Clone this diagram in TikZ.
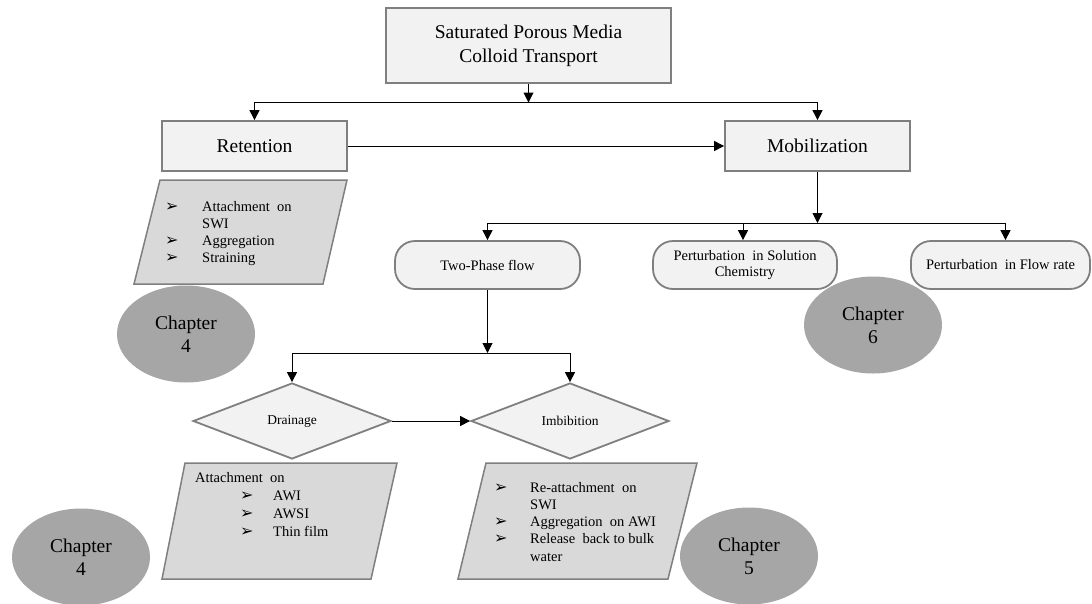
\documentclass[tikz,border=0pt]{standalone}
\usepackage{fontspec}
\setmainfont{Liberation Serif}
\newfontfamily\dejavu{DejaVu Sans}
\usetikzlibrary{shapes.geometric,arrows.meta}
\definecolor{boxfill}{HTML}{F2F2F2}
\definecolor{parafill}{HTML}{D9D9D9}
\definecolor{chapfill}{HTML}{A6A6A6}
\definecolor{bordergray}{HTML}{7F7F7F}
\newcommand{\bul}{{\dejavu\fontsize{16}{16}\selectfont ➢}}
\begin{document}
\begin{tikzpicture}[x=1pt,y=-1pt,
  box/.style={draw=bordergray, line width=1.8pt, fill=boxfill, inner sep=0pt, align=center},
  rbox/.style={box, rounded corners=20pt},
  dia/.style={diamond, draw=bordergray, line width=1.8pt, fill=boxfill, minimum width=198pt, minimum height=76pt, inner sep=0pt, font=\fontsize{13.5}{15}\selectfont},
  para/.style={draw=bordergray, line width=1.5pt, fill=parafill},
  chap/.style={ellipse, fill=chapfill, minimum width=138pt, minimum height=97pt, inner sep=0pt, align=center, font=\fontsize{19.5}{23}\selectfont},
  big/.style={font=\fontsize{19.5}{24}\selectfont},
  small/.style={font=\fontsize{14.5}{16}\selectfont},
  listtxt/.style={anchor=base west, inner sep=0pt},
  arr/.style={-{Triangle[length=10pt,width=10pt]}, line width=1pt, black},
  ln/.style={line width=1pt, black}
]
\useasboundingbox (0,0) rectangle (1092,603);

% main nodes
\node[box, big, minimum width=285pt, minimum height=75pt] (top) at (528.5,45.5) {Saturated Porous Media\\Colloid Transport};
\node[box, big, minimum width=185pt, minimum height=50pt] (ret) at (254.5,146) {Retention};
\node[box, big, minimum width=185pt, minimum height=50pt] (mob) at (817.5,146) {Mobilization};
\node[rbox, small, minimum width=185pt, minimum height=48pt] (tp) at (487.5,265) {Two-Phase flow};
\node[rbox, small, minimum width=184pt, minimum height=48pt] (sol) at (745,265) {Perturbation\ \ in Solution\\Chemistry};
\node[rbox, small, minimum width=179pt, minimum height=48pt] (flow) at (1000.5,265) {Perturbation\ \ in Flow rate};
\node[dia] (dr) at (292,421) {Drainage};
\node[dia] (im) at (570,421) {Imbibition};

% junctions
\coordinate (j1) at (528.5,102.5);
\coordinate (j2) at (817.5,223);
\coordinate (j3) at (487.5,353);

% connectors
\draw[arr] (top) -- (j1);
\draw[arr] (j1) -| (ret.north);
\draw[arr] (j1) -| (mob.north);
\draw[arr] (ret) -- (mob);
\draw[arr] (mob) -- (j2);
\draw[arr] (j2) -| (tp.north);
\draw[arr] (j2) -| ([xshift=-2pt]sol.north);
\draw[arr] (j2) -| ([xshift=5pt]flow.north);
\draw[arr] (tp) -- (j3);
\draw[arr] (j3) -| (dr.north);
\draw[arr] (j3) -| (im.north);
\draw[arr] (dr) -- (im);

% parallelograms
\draw[para] (160,180) -- (347,180) -- (323,284) -- (134,284) -- cycle;
\draw[para] (185,463) -- (397,463) -- (371,579) -- (162,579) -- cycle;
\draw[para] (486,463) -- (697,463) -- (668,579) -- (458,579) -- cycle;

% list texts
\node[listtxt, font=\fontsize{14.5}{17.2}\selectfont] (retlist) at (165,211)
  {\begin{tabular}[t]{@{}p{37pt}@{}l@{}}
   \bul & Attachment\ \ on\\
        & SWI\\
   \bul & Aggregation\\
   \bul & Straining
   \end{tabular}};
\node[listtxt, font=\fontsize{14.5}{18}\selectfont] (drlist) at (195,482)
  {\begin{tabular}[t]{@{}p{45pt}@{}p{33pt}@{}l@{}}
   \multicolumn{3}{@{}l@{}}{Attachment\ \ on}\\
   & \bul & AWI\\
   & \bul & AWSI\\
   & \bul & Thin film
   \end{tabular}};
\node[listtxt, font=\fontsize{14.5}{17.3}\selectfont] (imlist) at (494,492)
  {\begin{tabular}[t]{@{}p{36pt}@{}l@{}}
   \bul & Re-attachment\ \ on\\
        & SWI\\
   \bul & Aggregation\ \ on AWI\\
   \bul & Release\ \ back to bulk\\
        & water
   \end{tabular}};

% chapter ellipses
\node[chap] (c4a) at (186,334) {Chapter\\4};
\node[chap] (c6) at (873,325) {Chapter\\6};
\node[chap] (c4b) at (81,557) {Chapter\\4};
\node[chap] (c5) at (749,556) {Chapter\\5};
\end{tikzpicture}
\end{document}
